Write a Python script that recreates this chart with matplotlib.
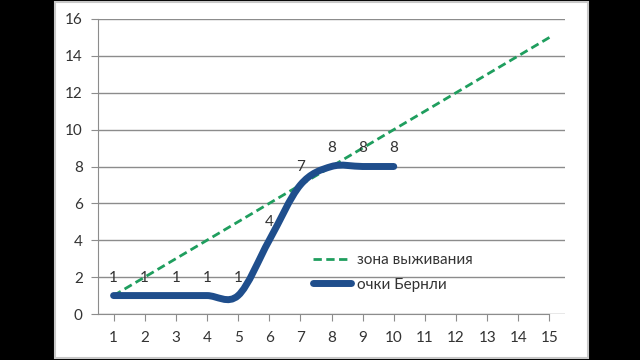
import matplotlib
matplotlib.use("Agg")
import matplotlib.pyplot as plt
from matplotlib.path import Path
from matplotlib.patches import PathPatch, Rectangle
from matplotlib.lines import Line2D

# данные
categories = list(range(1, 16))
survival = list(range(1, 16))            # зона выживания
bernli_x = list(range(1, 11))
bernli = [1, 1, 1, 1, 1, 4, 7, 8, 8, 8]  # очки Бернли

green = "#1f9e5e"
blue = "#1f4e8c"
grid_col = "#8c8c8c"
text_col = "#333333"

plt.rcParams["font.family"] = ["Lato", "DejaVu Sans"]


def smooth_path(xs, ys):
    """Сглаженная линия как в Excel: кривые Безье через точки"""
    pts = list(zip(xs, ys))
    verts = [pts[0]]
    codes = [Path.MOVETO]
    n = len(pts)
    for i in range(n - 1):
        p0 = pts[i - 1] if i > 0 else pts[i]
        p1 = pts[i]
        p2 = pts[i + 1]
        p3 = pts[i + 2] if i + 2 < n else pts[i + 1]
        c1 = (p1[0] + (p2[0] - p0[0]) / 6, p1[1] + (p2[1] - p0[1]) / 6)
        c2 = (p2[0] - (p3[0] - p1[0]) / 6, p2[1] - (p3[1] - p1[1]) / 6)
        verts += [c1, c2, p2]
        codes += [Path.CURVE4] * 3
    return Path(verts, codes)


fig = plt.figure(figsize=(6.4, 3.6), dpi=100, facecolor="black")
fig.patches.append(Rectangle((55 / 640, 2 / 360), 533 / 640, 356 / 360,
                             transform=fig.transFigure, facecolor="white",
                             edgecolor="#c8c8c8", linewidth=1.5, zorder=-5))

ax = fig.add_axes([98 / 640, 46 / 360, 467 / 640, 295 / 360])
ax.set_facecolor("none")

ax.plot(categories, survival, color=green, linestyle=(0, (3, 1.6)),
        linewidth=2, zorder=3)

patch = PathPatch(smooth_path(bernli_x, bernli), facecolor="none",
                  edgecolor=blue, linewidth=5, capstyle="round",
                  joinstyle="round", zorder=4)
ax.add_patch(patch)

for x, y in zip(bernli_x, bernli):
    ax.annotate(str(y), (x, y), xytext=(0, 13), textcoords="offset points",
                ha="center", va="center", fontsize=11, color=text_col,
                zorder=5)

ax.set_xlim(0.5, 15.5)
ax.set_ylim(0, 16)
ax.set_xticks(categories)
ax.set_yticks(range(0, 17, 2))
ax.yaxis.grid(True, color=grid_col, linewidth=1)
ax.set_axisbelow(True)

for s in ["top", "right"]:
    ax.spines[s].set_visible(False)
ax.spines["left"].set_color(grid_col)
ax.spines["bottom"].set_color(grid_col)
ax.spines["bottom"].set_bounds(0.5, 15)
ax.tick_params(axis="both", colors=grid_col, labelcolor=text_col,
               labelsize=11, length=5, direction="out")
ax.tick_params(axis="x", pad=7)
ax.tick_params(axis="y", pad=6)

handles = [Line2D([], [], color=green, linestyle=(0, (3, 1.6)), linewidth=2),
           Line2D([], [], color=blue, linewidth=5, solid_capstyle="round")]
ax.legend(handles, ["зона выживания", "очки Бернли"], loc="upper left",
          bbox_to_anchor=(313 / 640, 107 / 360),
          bbox_transform=fig.transFigure, frameon=False, fontsize=11,
          handlelength=2.5, handletextpad=0.35, labelspacing=0.7,
          borderpad=0, borderaxespad=0, labelcolor=text_col)

fig.savefig("out.png", dpi=100, facecolor="black")
